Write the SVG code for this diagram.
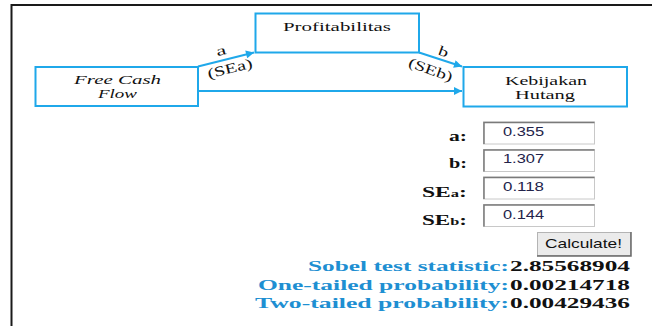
<svg xmlns="http://www.w3.org/2000/svg" width="652" height="326" viewBox="0 0 652 326">
<defs>
<style>
.node{fill:#ffffff;stroke:#1fa8ea;stroke-width:2}
.edge{stroke:#1fa8ea;stroke-width:2;fill:none}
.serif{font-family:"Liberation Serif","Times New Roman",serif;fill:#111}
.lbl{font-family:"Liberation Serif","Times New Roman",serif;font-weight:bold;font-size:15px;fill:#111;text-anchor:end}
.inp{fill:#ffffff;stroke:#c8c8c8;stroke-width:1}
.inpdark{stroke:#7a7a7a;stroke-width:1.5;fill:none}
.val{font-family:"Liberation Sans",Arial,sans-serif;font-size:12px;fill:#23234a}
.res{font-family:"Liberation Serif","Times New Roman",serif;font-weight:bold;font-size:15.5px}
.blue{fill:#1e8fd2}
.blk{fill:#111}
</style>
<marker id="arr" viewBox="0 0 10 10" refX="10" refY="5" markerWidth="10" markerHeight="8" markerUnits="userSpaceOnUse" orient="auto">
<path d="M0,0 L10,5 L0,10 z" fill="#1fa8ea"/>
</marker>
</defs>
<rect x="0" y="0" width="652" height="326" fill="#ffffff"/>
<path d="M11.5,326 L11.5,5 L652,5" stroke="#1a1a1a" stroke-width="2" fill="none"/>

<g id="connectors">
<line class="edge" x1="198" y1="66.5" x2="254" y2="52.5" marker-end="url(#arr)"/>
<line class="edge" x1="419" y1="52.5" x2="462" y2="66.5" marker-end="url(#arr)"/>
<line class="edge" x1="198" y1="91" x2="462" y2="91" marker-end="url(#arr)"/>
<text class="serif" font-size="14" text-anchor="middle" textLength="10" lengthAdjust="spacingAndGlyphs" transform="translate(222,55) rotate(-14)">a</text>
<text class="serif" font-size="14" text-anchor="middle" textLength="46" lengthAdjust="spacingAndGlyphs" transform="translate(231,73) rotate(-14)">(SEa)</text>
<text class="serif" font-size="14" text-anchor="middle" textLength="10" lengthAdjust="spacingAndGlyphs" transform="translate(442,56) rotate(20)">b</text>
<text class="serif" font-size="14" text-anchor="middle" textLength="46" lengthAdjust="spacingAndGlyphs" transform="translate(429,74) rotate(20)">(SEb)</text>
</g>

<g id="node-fcf">
<rect class="node" x="35.5" y="67" width="162.5" height="39"/>
<text class="serif" font-size="13" font-style="italic" x="74" y="84" textLength="87" lengthAdjust="spacingAndGlyphs">Free Cash</text>
<text class="serif" font-size="13" font-style="italic" x="98" y="98" textLength="39" lengthAdjust="spacingAndGlyphs">Flow</text>
</g>

<g id="node-profit">
<rect class="node" x="255.5" y="13.5" width="163.5" height="39"/>
<text class="serif" font-size="13" x="283" y="31" textLength="108" lengthAdjust="spacingAndGlyphs">Profitabilitas</text>
</g>

<g id="node-kebijakan">
<rect class="node" x="463.5" y="67" width="163.5" height="39.5"/>
<text class="serif" font-size="13" x="505" y="84.5" textLength="82" lengthAdjust="spacingAndGlyphs">Kebijakan</text>
<text class="serif" font-size="13" x="515" y="98.5" textLength="60" lengthAdjust="spacingAndGlyphs">Hutang</text>
</g>

<g id="inputs">
<text class="lbl" x="467" y="140.5" textLength="18" lengthAdjust="spacingAndGlyphs">a:</text>
<text class="lbl" x="467" y="168" textLength="18" lengthAdjust="spacingAndGlyphs">b:</text>
<text class="lbl" x="467" y="197" textLength="45" lengthAdjust="spacingAndGlyphs">SE<tspan font-size="10.5">a</tspan>:</text>
<text class="lbl" x="467" y="225" textLength="45" lengthAdjust="spacingAndGlyphs">SE<tspan font-size="10.5">b</tspan>:</text>

<rect class="inp" x="483.5" y="122" width="111" height="22"/>
<path class="inpdark" d="M484,144 L484,122.5 L594.5,122.5"/>
<text class="val" x="503" y="135.5" textLength="41" lengthAdjust="spacingAndGlyphs">0.355</text>

<rect class="inp" x="483.5" y="149.5" width="111" height="22"/>
<path class="inpdark" d="M484,171.5 L484,150 L594.5,150"/>
<text class="val" x="503" y="163" textLength="41" lengthAdjust="spacingAndGlyphs">1.307</text>

<rect class="inp" x="483.5" y="177" width="111" height="22"/>
<path class="inpdark" d="M484,199 L484,177.5 L594.5,177.5"/>
<text class="val" x="503" y="191" textLength="41" lengthAdjust="spacingAndGlyphs">0.118</text>

<rect class="inp" x="483.5" y="204.5" width="111" height="22"/>
<path class="inpdark" d="M484,226.5 L484,205 L594.5,205"/>
<text class="val" x="503" y="218.5" textLength="41" lengthAdjust="spacingAndGlyphs">0.144</text>
</g>

<g id="button">
<rect x="537.5" y="232.5" width="93" height="23" fill="#ebebeb" stroke="#b4b4b4" stroke-width="1"/>
<path d="M631,232 L631,256 L537,256" stroke="#6a6a6a" stroke-width="1.5" fill="none"/>
<text font-family="'Liberation Sans',Arial,sans-serif" font-size="13" fill="#111" x="545" y="248" textLength="77" lengthAdjust="spacingAndGlyphs">Calculate!</text>
</g>

<g id="results">
<text class="res blue" x="308" y="271" textLength="201" lengthAdjust="spacingAndGlyphs">Sobel test statistic:</text>
<text class="res blk" x="510" y="271" textLength="120" lengthAdjust="spacingAndGlyphs">2.85568904</text>
<text class="res blue" x="258" y="289.5" textLength="251" lengthAdjust="spacingAndGlyphs">One-tailed probability:</text>
<text class="res blk" x="510" y="289.5" textLength="120" lengthAdjust="spacingAndGlyphs">0.00214718</text>
<text class="res blue" x="255" y="307.5" textLength="254" lengthAdjust="spacingAndGlyphs">Two-tailed probability:</text>
<text class="res blk" x="510" y="307.5" textLength="120" lengthAdjust="spacingAndGlyphs">0.00429436</text>
</g>
</svg>
